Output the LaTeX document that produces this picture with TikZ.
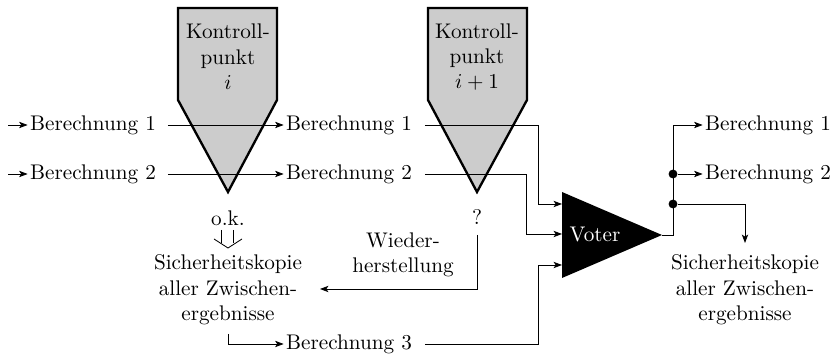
\documentclass[tikz,border=0pt]{standalone}
\usetikzlibrary{arrows.meta}
\begin{document}
\begin{tikzpicture}[x=0.472pt,y=-0.472pt,
  >={Stealth[length=4pt,width=3pt,inset=1pt]},
  conn/.style={line width=0.4pt},
  txt/.style={inner sep=1pt, align=center},
  kpshape/.style={fill=black!20, draw=black, line width=1.1pt, line join=miter},
  dot/.style={circle, fill=black, inner sep=0pt, minimum size=4.2pt}]
\useasboundingbox (0,0) rectangle (835,354);
% control points
\draw[kpshape] (178,8) -- (277,8) -- (277,100) -- (228,192) -- (178,100) -- cycle;
\draw[kpshape] (428,8) -- (527,8) -- (527,100) -- (477,192) -- (428,100) -- cycle;
\node[txt] (kp1) at (228,57) {Kontroll-\\punkt\\$i$};
\node[txt] (kp2) at (477,57) {Kontroll-\\punkt\\$i+1$};
% voter
\fill (562,192) -- (562,278) -- (662,235) -- cycle;
\node[txt, text=white] (voter) at (595,235) {Voter};
\coordinate (vin1) at (562,204);
\coordinate (vin2) at (562,234);
\coordinate (vin3) at (562,265);
\coordinate (vout) at (662,235);
% texts
\node[txt] (b1L) at (93,125) {Berechnung 1};
\node[txt] (b2L) at (93,174) {Berechnung 2};
\node[txt] (b1M) at (349,125) {Berechnung 1};
\node[txt] (b2M) at (349,174) {Berechnung 2};
\node[txt] (b3) at (349,344) {Berechnung 3};
\node[txt] (b1R) at (768,125) {Berechnung 1};
\node[txt] (b2R) at (768,174) {Berechnung 2};
\node[txt] (ok) at (228,218) {o.k.};
\node[txt] (q) at (477,217) {?};
\node[txt] (SL) at (228,290) {Sicherheitskopie\\aller Zwischen-\\ergebnisse};
\node[txt] (SR) at (745,290) {Sicherheitskopie\\aller Zwischen-\\ergebnisse};
\node[txt] (wh) at (403,255) {Wieder-\\herstellung};
\coordinate (in1) at (8,125);
\coordinate (in2) at (8,174);
\coordinate (qbot) at (477,235);
\coordinate (ret) at (320,289);
\coordinate (srtop) at (745,243);
% connectors
\draw[conn,->] (in1) -- (b1L);
\draw[conn,->] (in2) -- (b2L);
\draw[conn,->,shorten <=4.5pt] (b1L) -- (b1M);
\draw[conn,->,shorten <=4.5pt] (b2L) -- (b2M);
\draw[conn,->,shorten <=5pt] (b1M.east) -- (538,125) |- (vin1);
\draw[conn,->,shorten <=5pt] (b2M.east) -- (526,174) |- (vin2);
\draw[conn,->,shorten <=5pt] (b3.east) -- (538,344) |- (vin3);
\draw[conn,->] (qbot) |- (ret);
\draw[conn,->] ([yshift=-3pt]SL.south) |- (b3);
\draw[conn] (vout) -- (673,235) -- (673,125);
\draw[conn,->] (673,125) -- (b1R);
\node[dot] (d1) at (673,174) {};
\node[dot] (d2) at (673,204) {};
\draw[conn,->] (d1) -- (b2R);
\draw[conn,->] (d2) -| (srtop);
% hollow arrow o.k.
\draw[line width=0.4pt] (221,230) -- (221,243);
\draw[line width=0.4pt] (233,230) -- (233,243);
\draw[line width=0.4pt, line join=miter] (214,239) -- (228,248) -- (242,239);
\end{tikzpicture}
\end{document}
